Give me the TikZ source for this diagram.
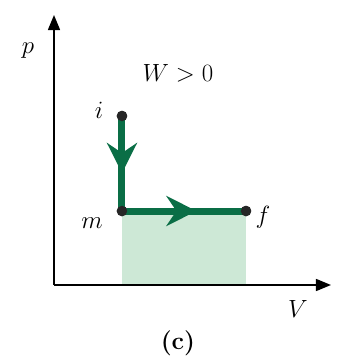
\documentclass[tikz,border=0pt]{standalone}
\usepackage{amsmath}
\usetikzlibrary{arrows.meta,decorations.markings}
\definecolor{pathgreen}{RGB}{10,110,70}
\definecolor{areagreen}{RGB}{205,232,214}

\begin{document}
\begin{tikzpicture}[
  x=1pt, y=1pt,
  axis/.style={line width=1.5pt, -{Triangle[length=15pt, width=12pt]}},
  dot/.style={circle, fill=black!85, inner sep=0pt, minimum size=10.5pt},
  lbl/.style={font=\fontsize{25}{30}\selectfont},
  process/.style={draw=pathgreen, line width=7pt,
    postaction={decorate}, decoration={markings,
    mark=at position 0.6 with {\arrow{Stealth[length=30pt, width=30pt, inset=10pt]}}}}
]
\useasboundingbox (0,0) rectangle (337,360);

\coordinate (o) at (54,75);
\coordinate (ytop) at (54,345);
\coordinate (xend) at (331,75);

\fill[areagreen] (122,75) rectangle (246,149);

\draw[axis] (o) -- (ytop);
\draw[axis] (o) -- (xend);

\node[dot] (i) at (122,244) {};
\node[dot] (m) at (122,149) {};
\node[dot] (f) at (246,149) {};

\draw[process, pathgreen] (i.center) -- (m.center);
\draw[process, pathgreen] (m.center) -- (f.center);

\node[dot] at (i) {};
\node[dot] at (m) {};
\node[dot] at (f) {};

\node[lbl] (plabel) at (28,309) {$p$};
\node[lbl] (vlabel) at (298,51) {$V$};
\node[lbl] (work) at (178,287) {$W > 0$};
\node[lbl] (ilabel) at (99,250) {$i$};
\node[lbl] (mlabel) at (92,137) {$m$};
\node[lbl] (flabel) at (263,143) {$f$};
\node[lbl] (caption) at (178,17) {\textbf{(c)}};

\end{tikzpicture}
\end{document}
